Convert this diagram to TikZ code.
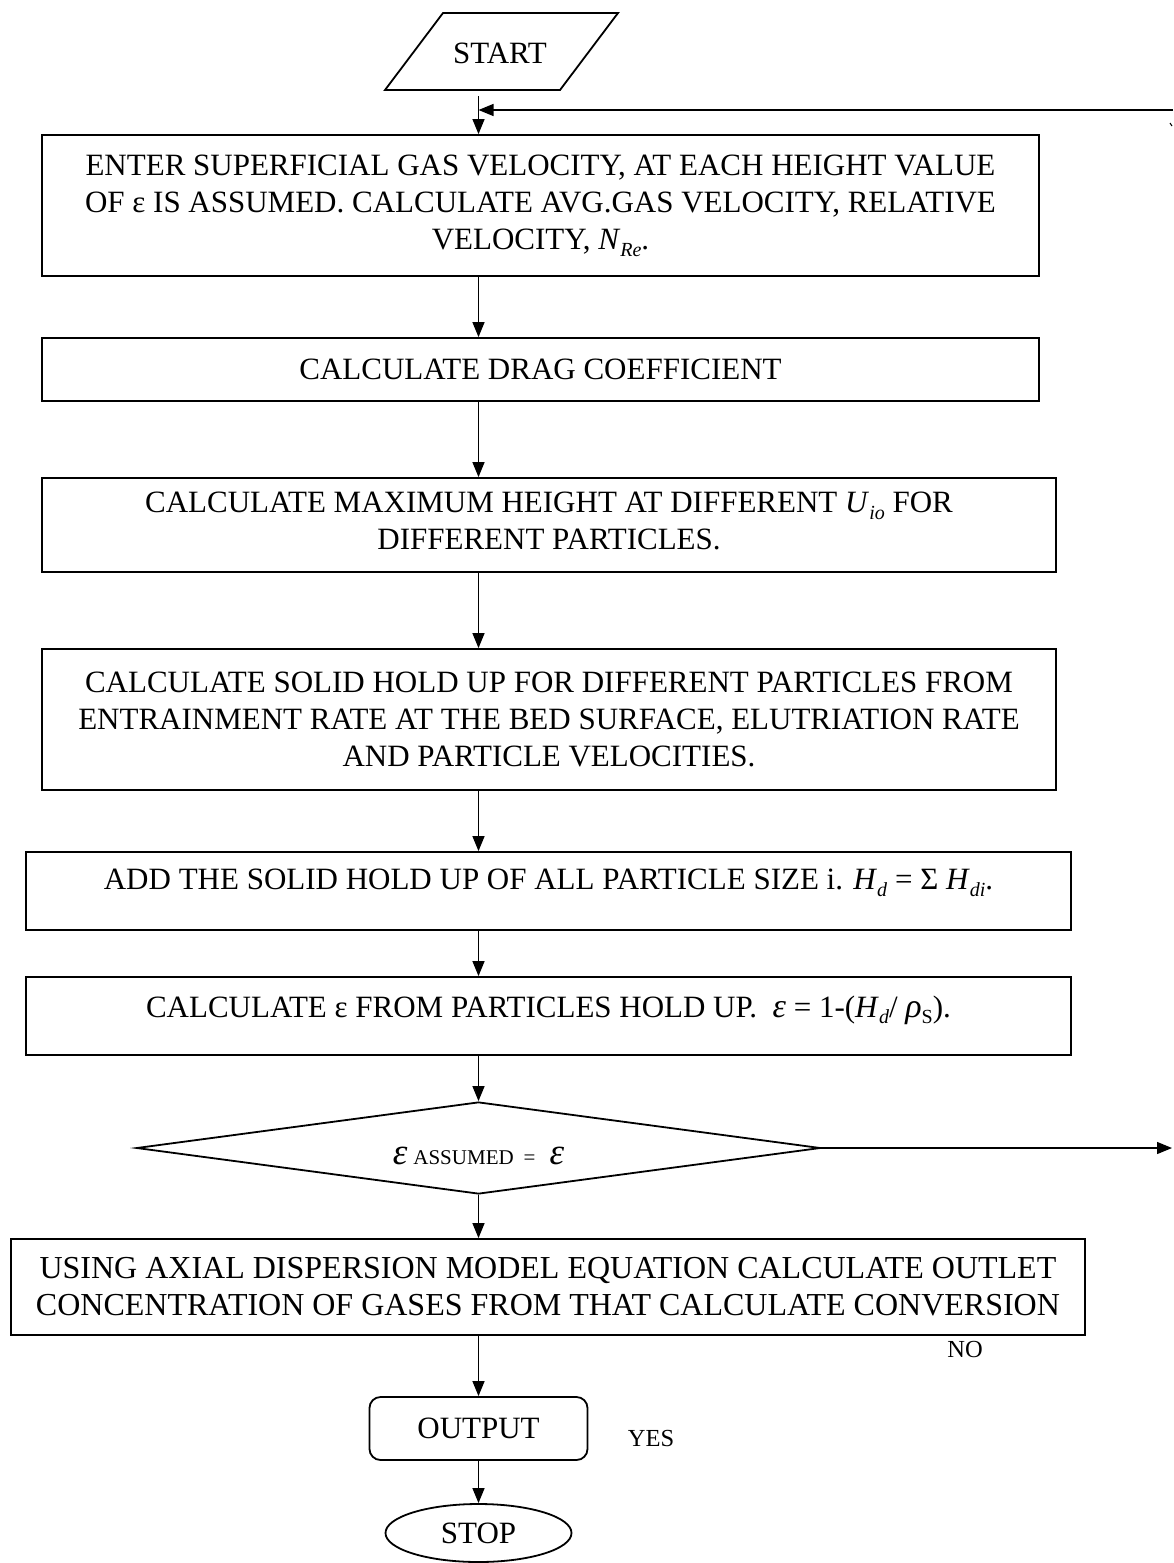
\documentclass[tikz,border=0pt]{standalone}
\usepackage{fontspec}
\setmainfont{Liberation Serif}
\usetikzlibrary{shapes.geometric,arrows.meta}
\newcommand{\subx}[1]{\raisebox{-0.22em}{\fontsize{20}{20}\selectfont #1}}
\newcommand{\bigit}[1]{{\fontsize{34}{34}\selectfont\textit{#1}}}
\begin{document}
\begin{tikzpicture}[x=1pt,y=-1pt,
  box/.style={draw,line width=1.8pt,inner sep=0pt,align=center,font=\fontsize{31}{37}\selectfont},
  arr/.style={line width=1.3pt,-{Triangle[length=15pt,width=12pt]}},
  lab/.style={inner sep=0pt,font=\fontsize{24.5}{28}\selectfont},
  shapeline/.style={line width=1.8pt}]
\useasboundingbox (0,0) rectangle (1173,1563);
\coordinate (col) at (478.5,0);
% start
\draw[shapeline] (385,90) -- (443,13) -- (618,13) -- (560,90) -- cycle;
\node[font=\fontsize{31}{37}\selectfont,inner sep=0pt] (start) at (500,53) {START};
\coordinate (startout) at (478.5,96);
% boxes
\node[box,minimum width=997pt,minimum height=141pt] (b1) at (540.5,205.5)
  {ENTER SUPERFICIAL GAS VELOCITY, AT EACH HEIGHT VALUE\\OF ε IS ASSUMED. CALCULATE AVG.GAS VELOCITY, RELATIVE\\VELOCITY, \textit{N}\subx{\textit{Re}}.};
\node[box,minimum width=997pt,minimum height=63pt] (b2) at (540.5,369.5)
  {CALCULATE DRAG COEFFICIENT};
\node[box,minimum width=1014pt,minimum height=94pt] (b3) at (549,525)
  {\raisebox{4pt}[\height][\depth]{CALCULATE MAXIMUM HEIGHT AT DIFFERENT \textit{U}\subx{\textit{io}} FOR}\\\raisebox{4pt}[\height][\depth]{DIFFERENT PARTICLES.}};
\node[box,minimum width=1014pt,minimum height=141pt] (b4) at (549,719.5)
  {CALCULATE SOLID HOLD UP FOR DIFFERENT PARTICLES FROM\\ENTRAINMENT RATE AT THE BED SURFACE, ELUTRIATION RATE\\AND PARTICLE VELOCITIES.};
\node[box,minimum width=1045pt,minimum height=78pt] (b5) at (548.5,891)
  {\raisebox{8pt}[\height][\depth]{ADD THE SOLID HOLD UP OF ALL PARTICLE SIZE i. \textit{H}\subx{\textit{d}} = Σ \textit{H}\subx{\textit{di}}.}};
\node[box,minimum width=1045pt,minimum height=78pt] (b6) at (548.5,1016)
  {\raisebox{6pt}[\height][\depth]{CALCULATE ε FROM PARTICLES HOLD UP.\ \ \bigit{ε} = 1-(\textit{H}\subx{\textit{d}}/ \bigit{ρ}\subx{S}).}};
\node[draw,line width=1.8pt,diamond,inner sep=0pt,minimum width=684pt,minimum height=92pt,aspect=7.43] (dia) at (478.5,1148)
  {\raisebox{-8pt}[\height][\depth]{{\fontsize{37}{37}\selectfont\textit{ε}}\hspace{6pt}{\fontsize{21}{21}\selectfont ASSUMED\hspace{10pt}=\hspace{14pt}}{\fontsize{37}{37}\selectfont\textit{ε}}}};
\node[box,minimum width=1074pt,minimum height=96pt,font=\fontsize{32}{37}\selectfont] (b7) at (548,1287)
  {USING AXIAL DISPERSION MODEL EQUATION CALCULATE OUTLET\\CONCENTRATION OF GASES FROM THAT CALCULATE CONVERSION};
\node[box,rounded corners=11pt,minimum width=218pt,minimum height=63pt] (out) at (478.5,1428.5) {OUTPUT};
\node[box,ellipse,minimum width=186pt,minimum height=58pt] (stop) at (478.5,1533) {STOP};
% labels
\node[lab] (no) at (965,1349) {NO};
\node[lab] (yes) at (651,1438) {YES};
% connectors
\coordinate (fbin) at (1173,110);
\coordinate (fbout) at (1172,1148);
\coordinate (tk) at (1170,123);
\draw[arr] (startout) -- (b1.north -| col);
\draw[arr] (fbin) -- (fbin -| col);
\draw[arr] (b1.south -| col) -- (b2.north -| col);
\draw[arr] (b2.south -| col) -- (b3.north -| col);
\draw[arr] (b3.south -| col) -- (b4.north -| col);
\draw[arr] (b4.south -| col) -- (b5.north -| col);
\draw[arr] (b5.south -| col) -- (b6.north -| col);
\draw[arr] (b6.south -| col) -- (dia.north);
\draw[arr] (dia.south) -- (b7.north -| col);
\draw[arr] (b7.south -| col) -- (out.north);
\draw[arr] (out.south) -- (stop.north);
\draw[arr] (dia.east) -- (fbout);
\draw[line width=1pt] (tk) -- ++(2,3);
\end{tikzpicture}
\end{document}
